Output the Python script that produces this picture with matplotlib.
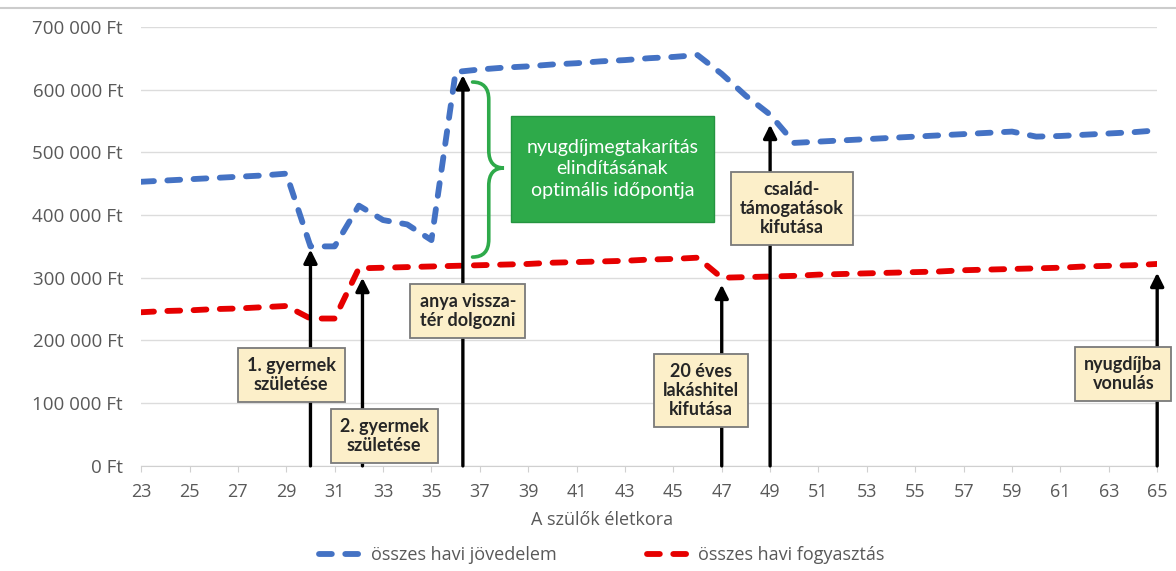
import matplotlib
matplotlib.use('Agg')
import matplotlib.pyplot as plt
from matplotlib.lines import Line2D
from matplotlib.path import Path
from matplotlib.patches import PathPatch, Rectangle
from matplotlib.ticker import FuncFormatter

# életkor és havi összegek (ezer Ft)
ages = list(range(23, 66))
income = [453, 455, 457, 459, 461, 463, 466, 350, 350, 415, 392, 385, 360, 628,
          632, 635, 637, 640, 642, 645, 647, 650, 652, 655, 625, 590, 560, 515,
          517, 519, 521, 523, 525, 527, 529, 531, 533, 525, 526, 528, 530, 532, 535]
spending = [245, 247, 248, 250, 251, 253, 255, 235, 235, 315, 316, 317, 318, 319,
            320, 321, 322, 324, 325, 326, 327, 329, 330, 332, 300, 301, 302, 303,
            305, 306, 307, 308, 309, 310, 312, 313, 314, 315, 316, 318, 319, 320, 322]
income = [v * 1000 for v in income]
spending = [v * 1000 for v in spending]

# események: (életkor, nyíl csúcsa, szöveg, doboz x, doboz y)
events = [
    (30.0, 345000, '1. gyermek\nszületése', 29.2, 145000),
    (32.15, 300000, '2. gyermek\nszületése', 33.05, 48000),
    (36.3, 623000, 'anya vissza-\ntér dolgozni', 36.5, 247000),
    (47.0, 289000, '20 éves\nlakáshitel\nkifutása', 46.15, 120000),
    (49.0, 544000, 'család-\ntámogatások\nkifutása', 49.9, 410000),
    (65.0, 308000, 'nyugdíjba\nvonulás', 63.6, 147000),
]

grey = '#595959'
blue = '#4472C4'
red = '#E60000'
green = '#2EAA4A'

fig = plt.figure(figsize=(11.76, 5.71), dpi=100)
ax = fig.add_axes([0.120, 0.184, 0.864, 0.769])

ax.plot(ages, income, color=blue, lw=4.2, dashes=(2.2, 2.3),
        dash_capstyle='round', dash_joinstyle='round', zorder=2)
ax.plot(ages, spending, color=red, lw=4.2, dashes=(2.2, 2.3),
        dash_capstyle='round', dash_joinstyle='round', zorder=2)

ax.set_xlim(23, 65)
ax.set_ylim(0, 700000)
ax.set_xticks(range(23, 66, 2))
ax.set_yticks(range(0, 700001, 100000))
ax.yaxis.set_major_formatter(FuncFormatter(
    lambda v, p: f'{v:,.0f}'.replace(',', ' ') + ' Ft'))
ax.grid(axis='y', color='#dcdcdc', lw=1)
ax.set_axisbelow(True)
for s in ['left', 'right', 'top']:
    ax.spines[s].set_visible(False)
ax.spines['bottom'].set_color('#d0d0d0')
ax.tick_params(axis='y', length=0, pad=13, labelsize=13.5, labelcolor=grey)
ax.tick_params(axis='x', length=4, color='#d0d0d0', pad=8, labelsize=13,
               labelcolor=grey)
for lab in ax.get_xticklabels() + ax.get_yticklabels():
    lab.set_fontfamily('Open Sans')
fig.text(0.512, 1 - 520 / 571, 'A szülők életkora', ha='center', va='center',
         fontsize=13, color=grey, fontfamily='Open Sans')

for x, tip, txt, bx, by in events:
    ax.annotate('', xy=(x, tip), xytext=(x, 0),
                arrowprops=dict(arrowstyle='-|>', lw=2.4, color='black',
                                shrinkA=0, shrinkB=0, mutation_scale=20),
                zorder=4, annotation_clip=False)
    ax.text(bx, by, txt, ha='center', va='center', fontsize=13,
            fontfamily='Lato', fontweight='bold', color='#262626',
            linespacing=1.15, zorder=6, clip_on=False,
            bbox=dict(boxstyle='square,pad=0.5', fc='#FCEFC9',
                      ec='#7a7a7a', lw=1.3))

# kapcsos zárójel
x0, x1, x2 = 36.7, 37.37, 38.0
yt, ym, yb = 612000, 475000, 333000
r = 28000
verts = [(x0, yt), (x1, yt), (x1, yt - r),
         (x1, ym + r),
         (x1, ym), (x2, ym),
         (x1, ym), (x1, ym - r),
         (x1, yb + r),
         (x1, yb), (x0, yb)]
codes = [Path.MOVETO, Path.CURVE3, Path.CURVE3,
         Path.LINETO,
         Path.CURVE3, Path.CURVE3,
         Path.CURVE3, Path.CURVE3,
         Path.LINETO,
         Path.CURVE3, Path.CURVE3]
ax.add_patch(PathPatch(Path(verts, codes), fc='none', ec=green, lw=2.6,
                       capstyle='round', zorder=3))

ax.add_patch(Rectangle((38.29, 389000), 46.66 - 38.29, 558000 - 389000,
                       fc=green, ec='#249440', lw=1, zorder=5))
ax.text((38.29 + 46.66) / 2, (389000 + 558000) / 2,
        'nyugdíjmegtakarítás\nelindításának\noptimális időpontja',
        ha='center', va='center', fontsize=14, fontfamily='Lato',
        color='white', linespacing=1.3, zorder=6)

handles = [Line2D([], [], color=blue, lw=4.2, dashes=(2.2, 2.3),
                  dash_capstyle='round'),
           Line2D([], [], color=red, lw=4.2, dashes=(2.2, 2.3),
                  dash_capstyle='round')]
leg = fig.legend(handles, ['összes havi jövedelem', 'összes havi fogyasztás'],
                 loc='center', bbox_to_anchor=(0.512, 1 - 555 / 571), ncol=2,
                 frameon=False, columnspacing=5.0, handlelength=2.4,
                 handletextpad=0.45, prop={'family': 'Open Sans', 'size': 13})
for t in leg.get_texts():
    t.set_color(grey)

fig.add_artist(Line2D([0, 1], [1 - 8 / 571] * 2, color='#cccccc', lw=1.5,
                      transform=fig.transFigure))

fig.savefig('out.png', dpi=100, facecolor='white')
